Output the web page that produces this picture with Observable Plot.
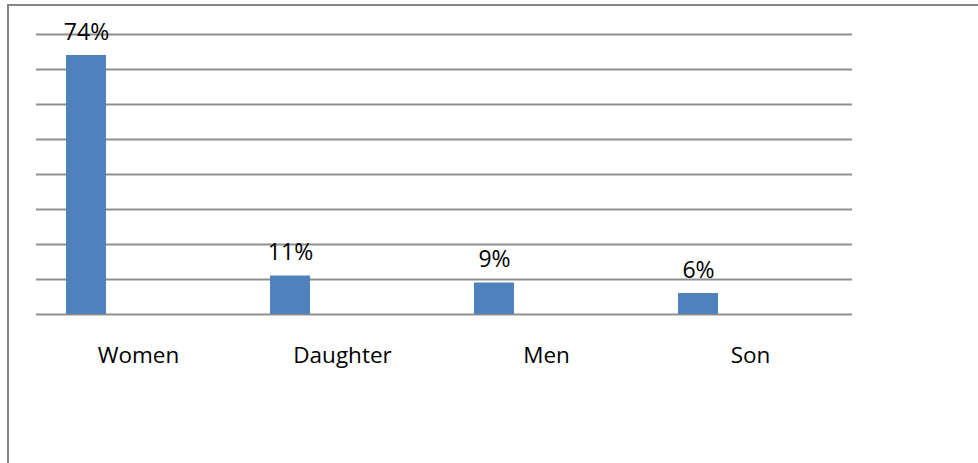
<!DOCTYPE html>
<html>
<head>
<meta charset="utf-8">
<script src="https://cdn.jsdelivr.net/npm/d3@7"></script>
<script src="https://cdn.jsdelivr.net/npm/@observablehq/plot@0.6"></script>
<style>
  html, body { margin: 0; padding: 0; background: #fff; }
  #wrap { position: relative; width: 978px; height: 463px; overflow: hidden; }
  #frame { position: absolute; left: 7px; top: 4px; width: 990px; height: 480px;
           border-left: 2px solid #858585; border-top: 2px solid #858585; box-sizing: border-box; }
  #chart { position: absolute; left: 0; top: 0; }
</style>
</head>
<body>
<div id="wrap"><div id="frame"></div><div id="chart"></div></div>
<script>
const categories = ["Women", "Daughter", "Men", "Son"];
const values = [74, 11, 9, 6];
const labels = ["74%", "11%", "9%", "6%"];
const gridTicks = [0, 10, 20, 30, 40, 50, 60, 70, 80];

const data = categories.map((c, i) => ({category: c, value: values[i], label: labels[i]}));

const chart = Plot.plot({
  width: 978,
  height: 463,
  marginLeft: 36,
  marginRight: 126,
  marginTop: 34,
  marginBottom: 149,
  style: {fontFamily: "'Open Sans', sans-serif", background: "transparent"},
  x: {domain: categories, padding: 0},
  y: {domain: [0, 80]},
  marks: [
    Plot.ruleY(gridTicks, {stroke: "#8f8f8f", strokeWidth: 2}),
    Plot.barY(data, {x: "category", y: "value", fill: "#4f81bd", insetLeft: 30, insetRight: 134}),
    Plot.text(data, {x: "category", y: "value", text: "label", dx: -52, dy: -16, lineAnchor: "bottom",
                     fontSize: 23, fill: "#000"}),
    Plot.axisX({tickSize: 0, tickPadding: 33, fontSize: 22.5, color: "#000", label: null}),
    Plot.axisY({ticks: [], label: null})
  ]
});
document.getElementById("chart").appendChild(chart);
</script>
</body>
</html>
